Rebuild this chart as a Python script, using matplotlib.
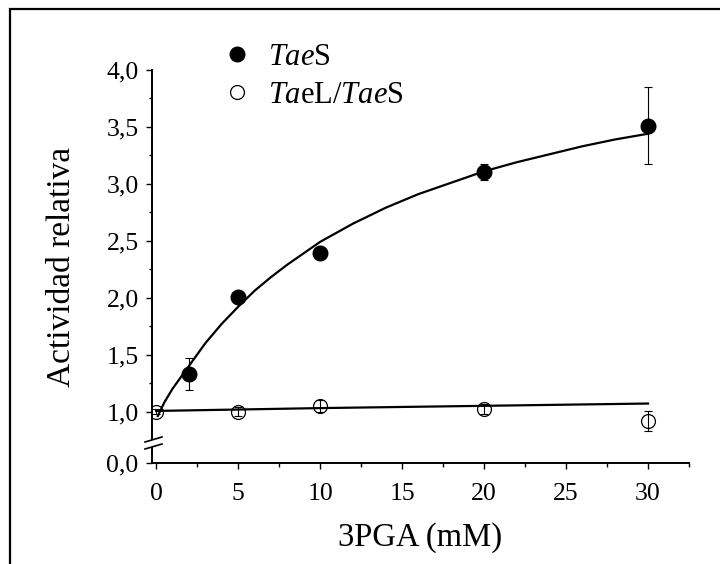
import matplotlib
matplotlib.use("Agg")
import matplotlib.pyplot as plt
from matplotlib.patches import Rectangle
from matplotlib.lines import Line2D
from matplotlib.ticker import MultipleLocator, FixedLocator

plt.rcParams['font.family'] = ['Liberation Serif', 'DejaVu Serif']
plt.rcParams['mathtext.fontset'] = 'custom'
plt.rcParams['mathtext.rm'] = 'Liberation Serif'
plt.rcParams['mathtext.it'] = 'Liberation Serif:italic'

# data
x_taes = [2, 5, 10, 20, 30]
y_taes = [1.33, 2.01, 2.39, 3.10, 3.51]
err_taes = [0.14, 0.02, 0.03, 0.07, 0.34]

x_tael = [0, 5, 10, 20, 30]
y_tael = [1.0, 1.0, 1.05, 1.02, 0.915]
err_tael = [0.02, 0.04, 0.05, 0.045, 0.09]

# fitted curves
fit_x_taes = [0.1, 0.5, 1, 1.5, 2, 3, 4, 5, 6, 7, 8, 9, 10, 12, 14, 16, 18, 20, 22, 24, 26, 28, 30]
fit_y_taes = [0.96, 1.08, 1.20, 1.30, 1.40, 1.60, 1.77, 1.92, 2.06, 2.18, 2.29, 2.39, 2.49, 2.65,
              2.79, 2.91, 3.01, 3.11, 3.19, 3.26, 3.33, 3.39, 3.44]
fit_x_tael = [0, 10, 20, 30]
fit_y_tael = [1.005, 1.03, 1.05, 1.07]

yticks_up = [1.0, 1.5, 2.0, 2.5, 3.0, 3.5, 4.0]
ylabels_up = ["1,0", "1,5", "2,0", "2,5", "3,0", "3,5", "4,0"]
xticks = [0, 5, 10, 15, 20, 25, 30]

W, H = 720, 564
fig = plt.figure(figsize=(W / 100, H / 100), dpi=100)

def fx(px):
    return px / W

def fy(py):
    return (H - py) / H

left, right = 151.7, 689
up_top, up_bot = 70, 439.4
low_top, low_bot = 448, 463

ax_up = fig.add_axes([fx(left), fy(up_bot), fx(right - left), (up_bot - up_top) / H])
ax_lo = fig.add_axes([fx(left), fy(low_bot), fx(right - left), (low_bot - low_top) / H], sharex=ax_up)

for ax in (ax_up, ax_lo):
    ax.plot(fit_x_taes, fit_y_taes, color='black', lw=1.6, zorder=2)
    ax.plot(fit_x_tael, fit_y_tael, color='black', lw=1.6, zorder=2)
    ax.errorbar(x_taes, y_taes, yerr=err_taes, fmt='none', ecolor='black',
                elinewidth=0.8, capsize=3, capthick=0.8, zorder=1)
    ax.errorbar(x_tael, y_tael, yerr=err_tael, fmt='none', ecolor='black',
                elinewidth=0.8, capsize=2.6, capthick=0.8, zorder=3)
    h1, = ax.plot(x_taes, y_taes, 'o', ms=10.5, color='black', zorder=4, label=r'$\mathit{Tae}$S')
    h2, = ax.plot(x_tael, y_tael, 'o', ms=10, mfc='none', mec='black', mew=0.9, zorder=4,
                  label=r'$\mathit{Ta}$eL/$\mathit{Tae}$S')
    ax.set_facecolor('none')
    for s in ('top', 'right'):
        ax.spines[s].set_visible(False)
    for s in ('left', 'bottom'):
        ax.spines[s].set_linewidth(1.4)

ax_up.spines['bottom'].set_visible(False)
ax_up.set_xlim(-0.27, 32.5)
ax_up.set_ylim(0.755, 4.0)
ax_up.yaxis.set_major_locator(FixedLocator(yticks_up))
ax_up.set_yticklabels(ylabels_up)
ax_up.yaxis.set_minor_locator(MultipleLocator(0.25))
ax_up.tick_params(axis='x', bottom=False, labelbottom=False, which='both')
ax_up.tick_params(axis='y', which='major', length=4.3, width=1, labelsize=18.5, pad=5)
ax_up.tick_params(axis='y', which='minor', length=2.3, width=1)

ax_lo.set_ylim(0, 0.13)
ax_lo.set_yticks([0])
ax_lo.set_yticklabels(["0,0"])
ax_lo.set_xticks(xticks)
ax_lo.set_xticklabels([str(t) for t in xticks])
ax_lo.xaxis.set_minor_locator(MultipleLocator(2.5))
ax_lo.tick_params(axis='y', which='major', length=4.6, width=1, labelsize=18.5, pad=5)
ax_lo.tick_params(axis='x', which='major', length=4.6, width=1, labelsize=18.5, pad=10)
ax_lo.tick_params(axis='x', which='minor', length=3.2, width=1)

# axis break marks
for py in (439.5, 446.5):
    fig.add_artist(Line2D([fx(145), fx(162)], [fy(py + 2.5), fy(py - 2.5)],
                          transform=fig.transFigure, color='black', lw=1.2))

fig.text(fx(62), fy(267), "Actividad relativa", rotation=90, ha='center', va='center', fontsize=24)
fig.text(fx(420), fy(538), "3PGA (mM)", ha='center', va='center', fontsize=23.5)

fig.legend(handles=[h1, h2], loc='upper left', bbox_to_anchor=(fx(223), fy(43)),
           frameon=False, fontsize=22, handlelength=0.9, handletextpad=0.58,
           labelspacing=0.28, borderpad=0, borderaxespad=0)

# outer frame (left and top edges visible)
fig.add_artist(Rectangle((fx(10), -0.2), 1.5, fy(9) + 0.2, transform=fig.transFigure,
                         fill=False, lw=1.6, ec='black'))

fig.savefig("out.png", dpi=100)
